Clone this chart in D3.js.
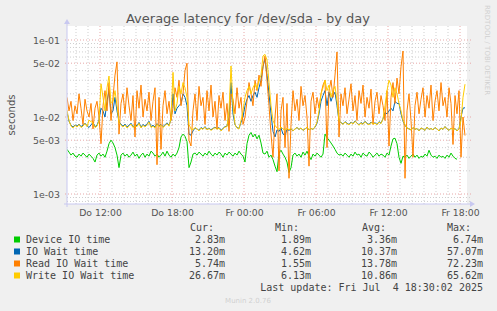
<!DOCTYPE html>
<html>
<head>
<meta charset="utf-8">
<script src="https://cdn.jsdelivr.net/npm/d3@7"></script>
<style>
  body { margin: 0; background: #f0f0f0; }
  svg { display: block; }
  text { font-family: "DejaVu Sans", sans-serif; }
  .mono { font-family: "DejaVu Sans Mono", monospace; }
</style>
</head>
<body>
<svg id="chart" width="497" height="311"></svg>
<script>
"use strict";

// 10 minute samples starting Do 03.07.2025 09:15, values in milliseconds
let startTime = Date.UTC(2025, 6, 3, 9, 15);
let stepMinutes = 10;

let deviceIO = [
  3.8, 3.5, 3.2, 3.4, 3.1, 3.0, 3.3, 3.1, 3.4, 3.2, 3.0, 3.3, 3.1, 2.9, 2.6, 3.2, 3.4,
  3.1, 3.3, 3.0, 3.6, 4.5, 5.0, 4.6, 4.0, 3.2, 2.2, 3.2, 3.4, 3.1, 3.3, 3.0, 3.2,
  3.5, 3.1, 3.3, 2.9, 3.2, 3.4, 3.0, 3.3, 3.1, 3.6, 3.4, 3.1, 3.3, 3.0, 3.2, 3.5,
  3.1, 3.6, 3.2, 3.0, 3.3, 3.1, 3.4, 4.0, 5.5, 6.0, 5.6, 4.8, 2.2, 2.6, 3.3, 3.4,
  3.2, 3.5, 3.3, 3.1, 3.4, 3.2, 3.6, 3.3, 3.1, 3.4, 3.2, 3.5, 3.3, 3.0, 3.4, 3.2,
  3.5, 3.3, 3.1, 3.4, 3.2, 3.6, 3.3, 3.1, 2.6, 4.5, 5.8, 6.3, 5.5, 6.0, 5.2, 5.8,
  4.6, 3.4, 3.3, 3.6, 3.0, 3.2, 2.8, 2.3, 1.95, 3.4, 3.7, 3.3, 3.0, 2.6, 1.9, 2.2,
  3.2, 3.4, 3.1, 3.3, 3.0, 3.5, 3.2, 3.6, 3.1, 2.8, 3.3, 3.1, 3.4, 3.2, 3.0, 3.3,
  6.0, 5.4, 5.0, 4.6, 4.2, 3.8, 3.4, 3.2, 3.3, 3.1, 3.4, 3.2, 3.0, 3.3, 3.1, 3.5,
  3.2, 3.3, 3.0, 3.4, 3.2, 3.1, 3.5, 3.3, 3.0, 3.2, 3.4, 3.1, 3.3, 3.2, 3.0, 3.4,
  3.2, 4.2, 5.2, 5.3, 4.5, 3.0, 2.5, 3.1, 3.0, 3.2, 2.9, 3.1, 3.3, 3.0, 3.2, 2.9,
  3.1, 3.0, 3.3, 3.1, 3.7, 3.2, 3.0, 3.1, 2.9, 3.2, 3.0, 3.1, 2.9, 3.2, 3.0, 3.4,
  3.1, 2.9, 2.83
];

let ioWait = [
  11.5, 8.8, 7.8, 7.4, 7.9, 7.6, 8.1, 7.5, 7.8, 8.3, 7.7, 7.3, 7.9, 8.5, 7.5, 7.8, 9.2,
  13, 12, 10, 16, 22, 11, 12, 18, 12,
  8.7, 8.0, 7.6, 8.1, 7.4, 7.8, 8.3, 7.5, 7.9, 7.7, 8.5, 7.4, 8.0, 7.6, 8.1, 8.8,
  7.5, 7.8, 7.4, 8.2, 7.7, 8.0, 7.5, 7.9, 8.4, 7.8, 9.2,
  20, 11, 13, 14, 15, 20, 18, 14, 6,
  5.8, 6.6, 7.2, 7.0, 6.7, 7.3, 7.0, 7.5, 6.9, 7.2, 6.8, 7.1, 7.4, 7.0, 7.3, 6.7, 7.1, 7.5,
  7.6, 10, 28, 11, 7.9,
  7.3, 7.1, 8.5, 10,
  14, 17, 19, 16, 19, 21, 18, 24, 30, 45, 57, 35,
  20, 11, 6.5, 5.5, 6.8, 6.5, 7.2, 6.0, 5.8, 6.9, 6.7, 7.0, 6.6, 7.0, 7.3, 6.9,
  7.2, 6.7, 7.0, 7.3, 6.8, 7.1, 6.9, 7.4, 8.3, 11,
  16, 19, 22, 14, 21, 16, 19, 21, 14,
  8.8, 8.5, 8.1, 8.7, 8.3, 8.0, 8.6, 8.2, 8.9, 8.4, 7.9, 8.5, 8.1, 8.8, 8.3, 8.0,
  8.6, 8.2, 8.4, 8.0, 8.7, 8.3, 9.5,
  11.5, 11, 12, 13, 12, 16, 15, 15, 11,
  8.8, 7.8, 7.2, 7.0, 6.8, 7.3, 6.9, 7.1, 6.6, 7.2, 7.0, 6.7, 7.4, 6.9, 7.1, 6.8,
  7.3, 7.0, 6.6, 7.2, 6.9, 7.5, 7.0, 6.7, 7.2, 6.8, 7.1, 6.6, 7.0, 10,
  13, 13.2
];

let readWait = [
  18, 12, 16, 9, 14, 11, 20, 13, 8, 17, 12, 10, 15, 7, 13, 16, 10,
  4.5, 14, 22, 12, 28, 9, 18, 35, 52,
  6, 15, 20, 11, 24, 14, 9, 19, 5.5, 22, 13, 26, 10, 17, 12, 21, 9, 16, 24, 2.4,
  18, 3.8, 14, 22, 11, 16, 9,
  13, 24, 18, 30, 14, 20, 40, 50, 5,
  4.2, 12, 20, 9, 25, 14, 18, 8, 22, 12, 26, 10, 16, 7, 19, 13, 21, 9,
  15, 6.5, 20, 17, 11,
  24, 13, 18, 8,
  10, 16, 28, 20, 14, 30, 22, 35, 25, 45, 62, 30,
  14, 6, 3, 10, 20, 2.0, 12, 18, 4, 15, 1.6, 8, 22, 12, 17, 9, 25, 14, 19, 10,
  2.3, 16, 21, 11, 18, 13,
  20, 26, 30, 4, 22, 30, 18, 35, 70,
  5.5, 20, 14, 24, 11, 17, 27, 12, 19, 9, 22, 15, 26, 10, 18, 13, 23, 8, 16, 21,
  11, 19, 14,
  9, 22, 4.2, 18, 28, 15, 32, 20, 45,
  72, 1.6, 12, 20, 9, 3.0, 14, 21, 11, 17, 24, 10, 19, 13, 26, 9, 16, 22, 12, 28,
  14, 18, 10, 24, 15, 4.4, 19, 11, 22, 3.0,
  10, 5.74
];

let writeWait = [
  12.3, 9, 7.6, 7.2, 7.8, 7.4, 8.0, 7.3, 7.6, 8.2, 7.5, 9.1, 8.7, 8.4, 7.3, 7.6, 9,
  27, 18, 12, 24, 34, 15, 16, 22, 14,
  8.5, 7.8, 7.4, 7.9, 7.2, 7.6, 8.1, 7.3, 7.7, 7.5, 8.3, 7.2, 7.8, 7.4, 7.9, 8.6,
  7.3, 7.6, 7.2, 8.0, 7.5, 7.8, 7.3, 7.7, 8.2, 7.6, 9.5,
  38, 12, 15, 25, 20, 28, 24, 18, 8,
  7.0, 6.8, 7.3, 7.0, 6.6, 7.2, 6.9, 7.4, 6.8, 7.1, 6.7, 7.0, 7.3, 6.9, 7.2, 6.6, 7.0, 7.4,
  7.5, 12, 46, 14, 8,
  7.2, 7.0, 9, 12,
  18, 22, 25, 20, 24, 27, 23, 30, 35, 62, 65, 55,
  28, 14, 9, 7.8, 7.2, 6.9, 7.4, 7.0, 6.7, 7.2, 6.8, 7.1, 6.6, 7.0, 7.3, 6.9,
  7.2, 6.7, 7.0, 7.4, 6.8, 7.1, 6.9, 7.5, 8.5, 12,
  20, 24, 30, 22, 26, 18, 22, 25, 16,
  9, 8.4, 8.0, 8.6, 8.2, 7.9, 8.5, 8.1, 8.8, 8.3, 7.8, 8.4, 8.0, 8.7, 8.2, 7.9,
  8.5, 8.1, 8.3, 7.9, 8.6, 8.2, 9.5,
  14, 22, 30, 26, 18, 24, 20, 15, 12,
  9, 8, 7.2, 7.0, 6.8, 7.3, 6.9, 7.1, 6.6, 7.2, 7.0, 6.7, 7.4, 6.9, 7.1, 6.8,
  7.3, 7.0, 6.6, 7.2, 6.9, 7.5, 7.0, 6.7, 7.2, 6.8, 7.1, 6.6, 7.0, 9,
  18, 26.67
];

let seriesNames = ['Device IO time', 'IO Wait time', 'Read IO Wait time', 'Write IO Wait time'];
let seriesColors = ['#00cc00', '#0066b3', '#ff8000', '#ffcc00'];
let curValues = ['2.83m', '13.20m', '5.74m', '26.67m'];
let minValues = ['1.89m', '4.62m', '1.55m', '6.13m'];
let avgValues = ['3.36m', '10.37m', '13.78m', '10.86m'];
let maxValues = ['6.74m', '57.07m', '72.23m', '65.62m'];
let yTickValues = [1e-1, 5e-2, 1e-2, 5e-3, 1e-3];
let dayNames = ['So', 'Mo', 'Di', 'Mi', 'Do', 'Fr', 'Sa'];

let plot = { left: 67, right: 467, top: 26, bottom: 204 };

let svg = d3.select('#chart');

let x = d3.scaleUtc()
  .domain([new Date(startTime), new Date(startTime + 400 * 5 * 60000)])
  .range([plot.left, plot.right]);
let y = d3.scaleLog()
  .domain([1e-3, 1e-1])
  .range([194, 40]);

svg.append('rect')
  .attr('x', plot.left)
  .attr('y', plot.top)
  .attr('width', plot.right - plot.left)
  .attr('height', plot.bottom - plot.top)
  .attr('fill', '#ffffff');

// grid
let gridG = svg.append('g').attr('class', 'grid');
let logTicks = [];
[1e-4, 1e-3, 1e-2, 1e-1].forEach(dec => {
  for (let k = 1; k < 10; k++) logTicks.push(dec * k);
});
logTicks = logTicks.filter(v => y(v) >= plot.top && y(v) <= plot.bottom);

let hourTicks = x.ticks(d3.utcHour.every(1));
gridG.selectAll('line.vminor')
  .data(hourTicks.filter(d => d.getUTCHours() % 6 != 0))
  .enter().append('line')
  .attr('x1', d => x(d)).attr('x2', d => x(d))
  .attr('y1', plot.top).attr('y2', plot.bottom)
  .attr('stroke', '#cfcfcf').attr('stroke-dasharray', '1,2');
gridG.selectAll('line.hminor')
  .data(logTicks.filter(v => !yTickValues.some(t => Math.abs(t - v) / t < 1e-6)))
  .enter().append('line')
  .attr('x1', plot.left).attr('x2', plot.right + 4)
  .attr('y1', v => y(v)).attr('y2', v => y(v))
  .attr('stroke', '#cfcfcf').attr('stroke-dasharray', '1,2');
gridG.selectAll('line.vmajor')
  .data(x.ticks(d3.utcHour.every(6)))
  .enter().append('line')
  .attr('x1', d => x(d)).attr('x2', d => x(d))
  .attr('y1', plot.top).attr('y2', plot.bottom + 2)
  .attr('stroke', '#e7a8a8').attr('stroke-dasharray', '1,2');
gridG.selectAll('line.hmajor')
  .data(yTickValues)
  .enter().append('line')
  .attr('x1', plot.left - 2).attr('x2', plot.right + 4)
  .attr('y1', v => y(v)).attr('y2', v => y(v))
  .attr('stroke', '#e7a8a8').attr('stroke-dasharray', '1,2');

// series lines
let allSeries = [deviceIO, ioWait, readWait, writeWait];
let line = d3.line()
  .x((v, i) => x(new Date(startTime + i * stepMinutes * 60000)))
  .y(v => y(v / 1000));
svg.append('clipPath').attr('id', 'clip')
  .append('rect')
  .attr('x', plot.left).attr('y', plot.top)
  .attr('width', plot.right - plot.left).attr('height', plot.bottom - plot.top);
svg.append('g')
  .attr('clip-path', 'url(#clip)')
  .selectAll('path')
  .data(allSeries)
  .enter().append('path')
  .attr('d', line)
  .attr('fill', 'none')
  .attr('stroke', (d, i) => seriesColors[i])
  .attr('stroke-width', 1)
  .attr('stroke-linejoin', 'round');

// axes
let expFormat = v => {
  let parts = v.toExponential(0).split('e');
  let exp = parseInt(parts[1], 10);
  return parts[0] + 'e' + (exp < 0 ? '-' : '+') + String(Math.abs(exp)).padStart(2, '0');
};
let yAxis = d3.axisLeft(y).tickValues(yTickValues).tickFormat(expFormat).tickSize(0).tickPadding(7);
let yAxisG = svg.append('g')
  .attr('transform', `translate(${plot.left},0)`)
  .call(yAxis);
yAxisG.select('.domain').remove();
yAxisG.selectAll('text')
  .style('font-family', '"DejaVu Sans", sans-serif')
  .style('font-size', '9.4px')
  .attr('fill', '#555');

let xAxis = d3.axisBottom(x)
  .ticks(d3.utcHour.every(6))
  .tickFormat(d => dayNames[d.getUTCDay()] + ' ' + d3.utcFormat('%H:%M')(d))
  .tickSize(0).tickPadding(5);
let xAxisG = svg.append('g')
  .attr('transform', `translate(0,${plot.bottom})`)
  .call(xAxis);
xAxisG.select('.domain').remove();
xAxisG.selectAll('text')
  .style('font-family', '"DejaVu Sans", sans-serif')
  .style('font-size', '9.3px')
  .attr('fill', '#555');

let axisColor = '#c8c8f0';
svg.append('line')
  .attr('x1', plot.left).attr('x2', plot.left)
  .attr('y1', plot.bottom + 3).attr('y2', 22)
  .attr('stroke', axisColor);
svg.append('line')
  .attr('x1', plot.left - 3).attr('x2', plot.right + 4)
  .attr('y1', plot.bottom).attr('y2', plot.bottom)
  .attr('stroke', axisColor);
svg.append('path')
  .attr('d', `M${plot.left - 3},24 L${plot.left + 3},24 L${plot.left},19 Z`)
  .attr('fill', axisColor);
svg.append('path')
  .attr('d', `M${plot.right + 3},${plot.bottom - 3} L${plot.right + 3},${plot.bottom + 3} L${plot.right + 8},${plot.bottom} Z`)
  .attr('fill', axisColor);

// titles
svg.append('text')
  .attr('x', 248).attr('y', 23)
  .attr('text-anchor', 'middle')
  .style('font-size', '13px')
  .attr('fill', '#555')
  .text('Average latency for /dev/sda - by day');
svg.append('text')
  .attr('transform', 'translate(15,115) rotate(-90)')
  .attr('text-anchor', 'middle')
  .style('font-size', '10px')
  .attr('fill', '#555')
  .text('seconds');
svg.append('text')
  .attr('transform', 'translate(485,5) rotate(90)')
  .attr('text-anchor', 'start')
  .style('font-size', '7px')
  .attr('fill', '#d0d0d0')
  .text('RRDTOOL / TOBI OETIKER');
svg.append('text')
  .attr('x', 248).attr('y', 303)
  .attr('text-anchor', 'middle')
  .style('font-size', '7px')
  .attr('fill', '#d0d0d0')
  .text('Munin 2.0.76');

// legend
let legendG = svg.append('g').attr('class', 'mono');
let colRight = [225, 311, 397, 483];
let headers = ['Cur:', 'Min:', 'Avg:', 'Max:'];
let headerX = [190, 275, 362, 447];
legendG.selectAll('text.head')
  .data(headers)
  .enter().append('text')
  .attr('class', 'mono')
  .attr('x', (d, i) => headerX[i]).attr('y', 231)
  .style('font-size', '10px')
  .attr('fill', '#444')
  .text(d => d);

let rows = legendG.selectAll('g.row')
  .data(seriesNames)
  .enter().append('g')
  .attr('transform', (d, i) => `translate(0,${239.5 + i * 12})`);
rows.append('rect')
  .attr('x', 14).attr('y', -3)
  .attr('width', 6).attr('height', 6)
  .attr('fill', (d, i) => seriesColors[i]);
rows.append('text')
  .attr('class', 'mono')
  .attr('x', 26).attr('y', 3.6)
  .style('font-size', '10px')
  .attr('fill', '#444')
  .text(d => d);
[curValues, minValues, avgValues, maxValues].forEach((vals, c) => {
  rows.append('text')
    .attr('class', 'mono')
    .attr('x', colRight[c]).attr('y', 3.6)
    .attr('text-anchor', 'end')
    .style('font-size', '10px')
    .attr('fill', '#444')
    .text((d, i) => vals[i]);
});
legendG.append('text')
  .attr('class', 'mono')
  .attr('x', 483).attr('y', 291)
  .attr('text-anchor', 'end')
  .style('font-size', '10px')
  .style('white-space', 'pre')
  .attr('xml:space', 'preserve')
  .attr('fill', '#444')
  .text('Last update: Fri Jul  4 18:30:02 2025');
</script>
</body>
</html>
